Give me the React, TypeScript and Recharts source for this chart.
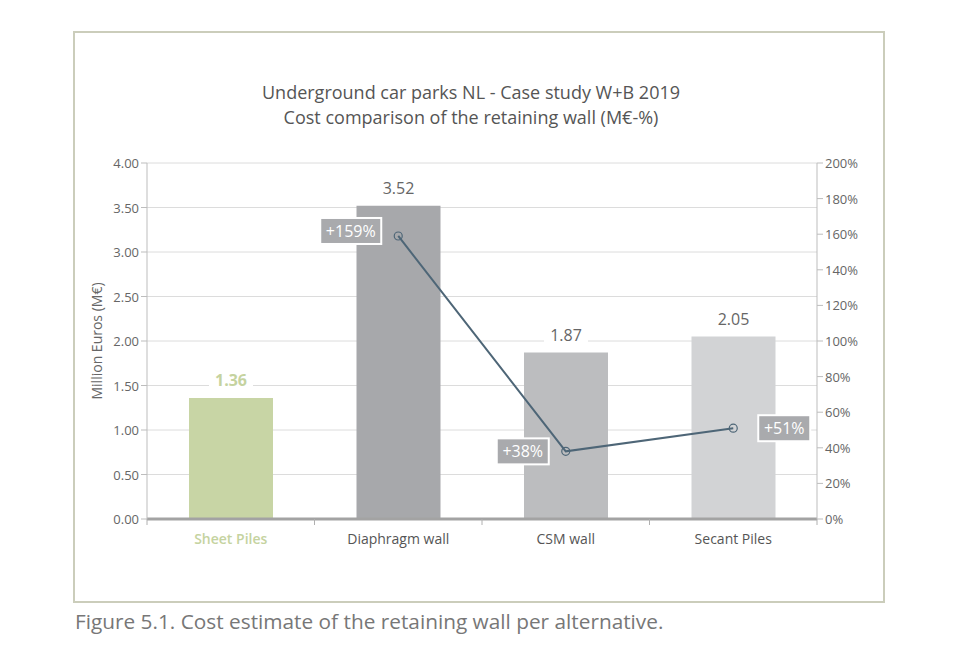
import React from 'react';
import {
  ComposedChart,
  Bar,
  Line,
  XAxis,
  YAxis,
  CartesianGrid,
  LabelList,
  Cell,
} from 'recharts';

const categories = ['Sheet Piles', 'Diaphragm wall', 'CSM wall', 'Secant Piles'];
const costs = [1.36, 3.52, 1.87, 2.05];
const increases: (number | null)[] = [null, 159, 38, 51];
const barColors = ['#c8d5a5', '#a7a8ab', '#bcbdbf', '#d2d3d5'];
const leftTicks = [0, 0.5, 1, 1.5, 2, 2.5, 3, 3.5, 4];
const rightTicks = [0, 20, 40, 60, 80, 100, 120, 140, 160, 180, 200];

const data = categories.map((c, i) => ({ name: c, cost: costs[i], pct: increases[i] }));

const FONT = '"Open Sans", "Noto Sans", sans-serif';
const TEXT = '#666666';
const LINE_COLOR = '#4e6677';

const CostLabel = (props: any) => {
  const { x, y, width, value, index } = props;
  const cx = x + width / 2;
  const txt = Number(value).toFixed(2);
  const first = index === 0;
  return (
    <g>
      <rect x={cx - 22} y={y - 30} width={44} height={22} fill="#ffffff" />
      <text
        x={cx}
        y={y - 12}
        textAnchor="middle"
        fontFamily={FONT}
        fontSize={16}
        fontWeight={first ? 700 : 400}
        fill={first ? '#c5d3a0' : '#666666'}
      >
        {txt}
      </text>
    </g>
  );
};

const PctLabel = (props: any) => {
  const { x, y, value, index } = props;
  if (value == null) return null;
  const txt = `+${value}%`;
  const w = txt.length * 9 + 16;
  const h = 26;
  const right = index === data.length - 1;
  const bx = right ? x + 25 : x - 17 - w;
  const by = index === 1 ? y - 18 : y - 13;
  return (
    <g>
      <rect x={bx} y={by} width={w} height={h} fill="#a9aaad" stroke="#ffffff" strokeWidth={2} />
      <text
        x={bx + w / 2}
        y={by + 19}
        textAnchor="middle"
        fontFamily={FONT}
        fontSize={16}
        fill="#ffffff"
      >
        {txt}
      </text>
    </g>
  );
};

const XTick = (props: any) => {
  const { x, y, payload, index, width, visibleTicksCount } = props;
  const band = width && visibleTicksCount ? width / visibleTicksCount : 0;
  const first = index === 0;
  const last = index === (visibleTicksCount || categories.length) - 1;
  return (
    <g>
      <line x1={x - band / 2} x2={x - band / 2} y1={y - 8} y2={y - 2} stroke="#b0b0b0" />
      {last && <line x1={x + band / 2} x2={x + band / 2} y1={y - 8} y2={y - 2} stroke="#b0b0b0" />}
      <text
        x={x}
        y={y + 17}
        textAnchor="middle"
        fontFamily={FONT}
        fontSize={14}
        fontWeight={first ? 600 : 400}
        fill={first ? '#c5d3a0' : '#555555'}
      >
        {payload.value}
      </text>
    </g>
  );
};

const LeftTick = (props: any) => {
  const { x, y, payload } = props;
  return (
    <text x={x} y={y + 5} textAnchor="end" fontFamily={FONT} fontSize={13} fill={TEXT}>
      {Number(payload.value).toFixed(2)}
    </text>
  );
};

const RightTick = (props: any) => {
  const { x, y, payload } = props;
  return (
    <text x={x} y={y + 5} textAnchor="start" fontFamily={FONT} fontSize={13} fill={TEXT}>
      {`${payload.value}%`}
    </text>
  );
};

export default function App() {
  return (
    <div
      style={{
        position: 'absolute',
        left: 0,
        top: 0,
        width: 958,
        height: 667,
        background: '#ffffff',
        fontFamily: FONT,
      }}
    >
      <div
        style={{
          position: 'absolute',
          left: 73,
          top: 31,
          width: 808,
          height: 568,
          border: '2px solid #cbcdbb',
        }}
      />
      <div
        style={{
          position: 'absolute',
          left: 171,
          width: 600,
          top: 80,
          textAlign: 'center',
          fontSize: 18,
          lineHeight: '25px',
          color: '#555555',
        }}
      >
        <div>Underground car parks NL - Case study W+B 2019</div>
        <div>Cost comparison of the retaining wall (M€-%)</div>
      </div>
      <div
        style={{
          position: 'absolute',
          left: 96,
          top: 341,
          transform: 'translate(-50%, -50%) rotate(-90deg)',
          whiteSpace: 'nowrap',
          fontSize: 14,
          color: TEXT,
        }}
      >
        Million Euros (M€)
      </div>
      <div
        style={{
          position: 'absolute',
          left: 75,
          top: 607,
          fontSize: 20.8,
          color: '#777777',
          whiteSpace: 'nowrap',
        }}
      >
        Figure 5.1. Cost estimate of the retaining wall per alternative.
      </div>
      <div style={{ position: 'absolute', left: 0, top: 0 }}>
        <ComposedChart
          width={958}
          height={667}
          data={data}
          margin={{ top: 163, right: 81, bottom: 118, left: 87 }}
          barCategoryGap={0}
        >
          <CartesianGrid vertical={false} stroke="#dcdcdc" yAxisId="left" />
          <XAxis
            dataKey="name"
            height={30}
            axisLine={{ stroke: '#a3a3a3', strokeWidth: 3 }}
            tickLine={false}
            tick={<XTick />}
            interval={0}
          />
          <YAxis
            yAxisId="left"
            width={60}
            domain={[0, 4]}
            ticks={leftTicks}
            axisLine={{ stroke: '#bdbdbd' }}
            tickLine={{ stroke: '#bdbdbd' }}
            tickSize={6}
            tick={<LeftTick />}
          />
          <YAxis
            yAxisId="right"
            orientation="right"
            width={60}
            domain={[0, 200]}
            ticks={rightTicks}
            axisLine={{ stroke: '#bdbdbd' }}
            tickLine={{ stroke: '#bdbdbd' }}
            tickSize={6}
            tick={<RightTick />}
          />
          <Bar yAxisId="left" dataKey="cost" barSize={84} isAnimationActive={false}>
            {data.map((d, i) => (
              <Cell key={d.name} fill={barColors[i]} />
            ))}
            <LabelList dataKey="cost" content={<CostLabel />} />
          </Bar>
          <Line
            yAxisId="right"
            dataKey="pct"
            stroke={LINE_COLOR}
            strokeWidth={2}
            dot={{ r: 4, stroke: LINE_COLOR, strokeWidth: 1.2, fill: 'none' }}
            isAnimationActive={false}
            connectNulls={false}
          >
            <LabelList dataKey="pct" content={<PctLabel />} />
          </Line>
        </ComposedChart>
      </div>
    </div>
  );
}
